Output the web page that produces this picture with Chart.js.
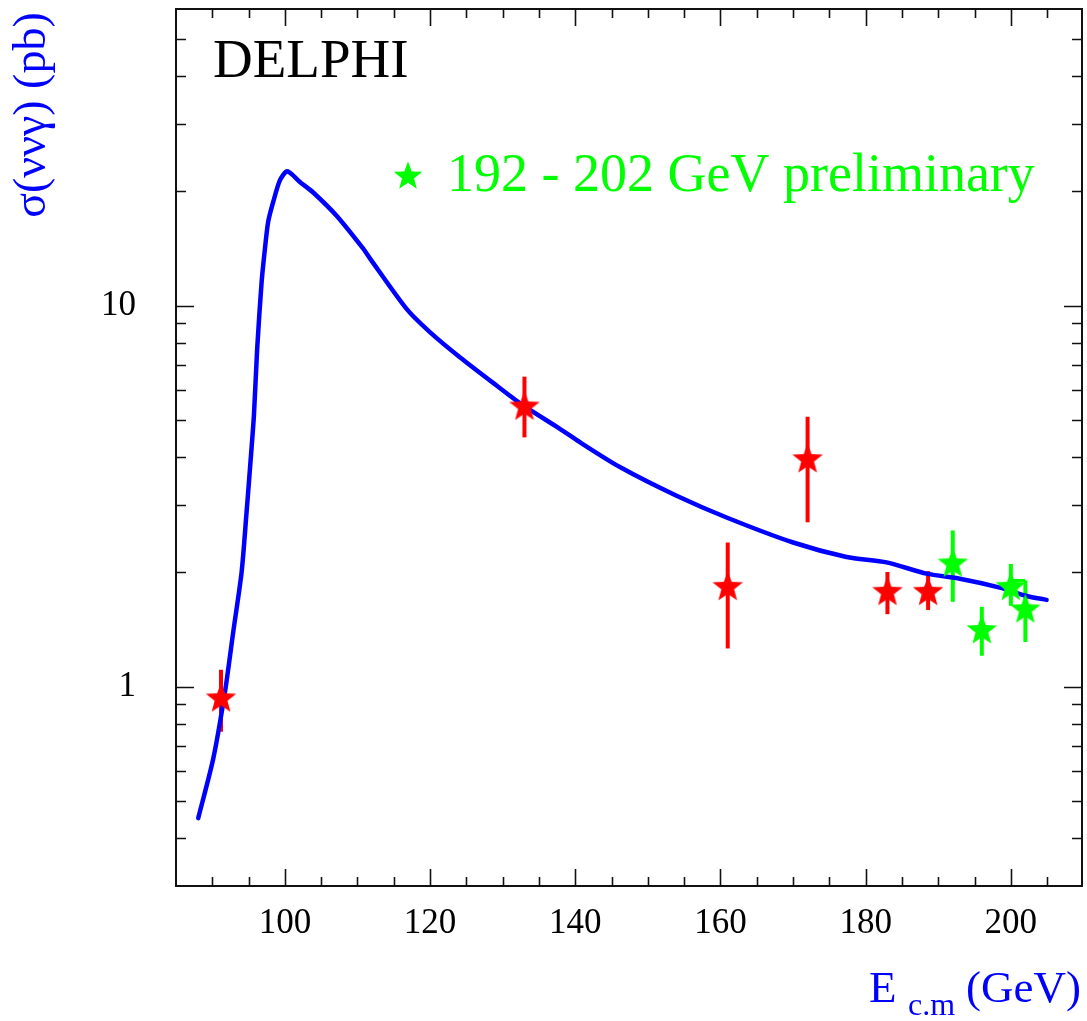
<!DOCTYPE html>
<html>
<head>
<meta charset="utf-8">
<script src="https://cdn.jsdelivr.net/npm/chart.js@4.4.1/dist/chart.umd.min.js"></script>
<style>
html, body { margin: 0; padding: 0; background: #fff; }
</style>
</head>
<body>
<canvas id="c" width="1087" height="1021"></canvas>
<script>
// DELPHI sigma(nu nu gamma) vs E c.m.

// theory curve
const curveE = [88.06, 90.12, 91.74, 92.88, 94.04, 94.72, 95.08, 95.73, 96.18, 96.79, 97.25, 97.70, 98.39, 99.31, 100.32, 102.07, 103.90, 107.12, 110.79, 111.71, 116.76, 119.97, 124.10, 129.16, 132.82, 137.88, 140.63, 146.14, 153.95, 160.84, 170.01, 177.37, 182.88, 188.39, 192.98, 198.48, 202.16, 204.92];
const curveSigma = [0.452, 0.646, 0.967, 1.39, 2.00, 2.87, 3.51, 5.14, 7.70, 11.5, 14.1, 16.6, 18.7, 21.3, 22.5, 21.1, 19.8, 17.2, 14.1, 13.3, 9.80, 8.52, 7.32, 6.17, 5.47, 4.75, 4.38, 3.77, 3.17, 2.78, 2.39, 2.19, 2.12, 1.98, 1.92, 1.82, 1.73, 1.69];

// published points (red)
const redE = [91.2, 133, 161, 172, 183, 188.6];
const redSigma = [0.938, 5.47, 1.84, 3.98, 1.786, 1.786];
const redHi = [1.108, 6.51, 2.39, 5.11, 2.00, 2.01];
const redLo = [0.762, 4.51, 1.26, 2.70, 1.55, 1.59];

// 192-202 preliminary (green)
const greenE = [192, 196, 200, 202];
const greenSigma = [2.12, 1.417, 1.84, 1.606];
const greenHi = [2.57, 1.62, 2.10, 1.90];
const greenLo = [1.67, 1.206, 1.63, 1.31];

// little green connector seen between 200 and 202
const linkE = [200, 202];
const linkSigma = [1.90, 1.90];

// axes
const xLabels = [100, 120, 140, 160, 180, 200];
const xMinor = [90, 95, 105, 110, 115, 125, 130, 135, 145, 150, 155, 165, 170, 175, 185, 190, 195, 205];
const yLabels = [1, 10];
const yMinor = [0.4, 0.5, 0.6, 0.7, 0.8, 0.9, 2, 3, 4, 5, 6, 7, 8, 9, 20, 30, 40, 50];

const SERIF = '"Liberation Serif", "DejaVu Serif", serif';
const BLUE = '#0000ff';
const RED = '#ff0000';
const GREEN = '#00ff00';

function makeStar(color, R) {
    const size = Math.ceil(R * 2 + 4);
    const cv = document.createElement('canvas');
    cv.width = size; cv.height = size;
    const g = cv.getContext('2d');
    const c = size / 2;
    g.beginPath();
    for (let i = 0; i < 10; i++) {
        const r = i % 2 ? R * 0.42 : R;
        const a = -Math.PI / 2 + i * Math.PI / 5;
        const px = c + r * Math.cos(a), py = c + 1.5 + r * Math.sin(a);
        i ? g.lineTo(px, py) : g.moveTo(px, py);
    }
    g.closePath();
    g.fillStyle = color;
    g.fill();
    return cv;
}

const redStar = makeStar(RED, 16);
const greenStar = makeStar(GREEN, 16);
const legendStar = makeStar(GREEN, 15);

const pts = (xs, ys) => xs.map((x, i) => ({ x, y: ys[i] }));

// error bars, frame, inner ticks, texts
const decor = {
    id: 'decor',
    beforeDatasetsDraw(chart) {
        const ctx = chart.ctx, xs = chart.scales.x, ys = chart.scales.y;
        ctx.save();
        ctx.lineWidth = 4;
        const bars = (E, lo, hi, col) => {
            ctx.strokeStyle = col;
            E.forEach((e, i) => {
                const px = xs.getPixelForValue(e);
                ctx.beginPath();
                ctx.moveTo(px, ys.getPixelForValue(lo[i]));
                ctx.lineTo(px, ys.getPixelForValue(hi[i]));
                ctx.stroke();
            });
        };
        bars(redE, redLo, redHi, RED);
        bars(greenE, greenLo, greenHi, GREEN);
        ctx.restore();
    },
    afterDraw(chart) {
        const ctx = chart.ctx, a = chart.chartArea;
        const xs = chart.scales.x, ys = chart.scales.y;
        ctx.save();
        ctx.strokeStyle = '#111';
        ctx.lineWidth = 1.6;
        // x ticks (bottom + top)
        const xt = (v, len) => {
            const p = Math.round(xs.getPixelForValue(v)) + 0.5;
            ctx.beginPath();
            ctx.moveTo(p, a.bottom); ctx.lineTo(p, a.bottom - len);
            ctx.moveTo(p, a.top); ctx.lineTo(p, a.top + len);
            ctx.stroke();
        };
        xLabels.forEach(v => xt(v, 17));
        xMinor.forEach(v => xt(v, 9));
        // y ticks (left + right)
        const yt = (v, len) => {
            const p = Math.round(ys.getPixelForValue(v)) + 0.5;
            ctx.beginPath();
            ctx.moveTo(a.left, p); ctx.lineTo(a.left + len, p);
            ctx.moveTo(a.right, p); ctx.lineTo(a.right - len, p);
            ctx.stroke();
        };
        yLabels.forEach(v => yt(v, 18));
        yMinor.forEach(v => yt(v, 10));
        // frame
        ctx.lineWidth = 2;
        ctx.strokeRect(a.left, a.top, a.right - a.left, a.bottom - a.top);

        // DELPHI label
        ctx.fillStyle = '#000';
        ctx.font = '55px ' + SERIF;
        ctx.textAlign = 'left';
        ctx.textBaseline = 'alphabetic';
        ctx.fillText('DELPHI', 213, 77);

        // legend
        ctx.drawImage(legendStar, 408 - legendStar.width / 2, 175 - legendStar.height / 2);
        ctx.fillStyle = GREEN;
        ctx.font = '54px ' + SERIF;
        ctx.fillText('192 - 202 GeV preliminary', 447, 191);

        // x title
        ctx.fillStyle = BLUE;
        ctx.font = '45px ' + SERIF;
        ctx.fillText('E', 869, 1002);
        ctx.font = '32px ' + SERIF;
        ctx.fillText('c.m', 908, 1015);
        ctx.font = '45px ' + SERIF;
        ctx.fillText('(GeV)', 966, 1002);

        // y title
        ctx.translate(45, 115);
        ctx.rotate(-Math.PI / 2);
        ctx.textAlign = 'center';
        ctx.font = '46px ' + SERIF;
        ctx.fillText('\u03c3(\u03bd\u03bd\u03b3) (pb)', 0, 0);
        ctx.restore();
    }
};

new Chart(document.getElementById('c'), {
    type: 'scatter',
    data: {
        datasets: [
            {
                label: 'published',
                data: pts(redE, redSigma),
                pointStyle: redStar,
                pointRadius: 16,
                showLine: false
            },
            {
                label: '192 - 202 GeV preliminary',
                data: pts(greenE, greenSigma),
                pointStyle: greenStar,
                pointRadius: 16,
                showLine: false
            },
            {
                label: 'link',
                data: pts(linkE, linkSigma),
                showLine: true,
                borderColor: GREEN,
                borderWidth: 3,
                pointRadius: 0
            },
            {
                label: 'theory',
                data: pts(curveE, curveSigma),
                showLine: true,
                borderColor: BLUE,
                borderWidth: 4.5,
                borderCapStyle: 'round',
                borderJoinStyle: 'round',
                tension: 0.25,
                pointRadius: 0
            }
        ]
    },
    options: {
        responsive: false,
        animation: false,
        events: [],
        layout: { autoPadding: false, padding: { left: 0, right: 5, top: 9, bottom: 0 } },
        plugins: {
            legend: { display: false },
            tooltip: { enabled: false },
            title: { display: false }
        },
        scales: {
            x: {
                type: 'linear',
                min: 85,
                max: 209.8,
                grid: { display: false, drawTicks: false },
                border: { display: false },
                afterBuildTicks: s => { s.ticks = xLabels.map(v => ({ value: v })); },
                afterFit: s => { s.height = 135; s.paddingLeft = 0; s.paddingRight = 0; },
                ticks: {
                    autoSkip: false,
                    maxRotation: 0,
                    padding: 17,
                    color: '#000',
                    font: { family: SERIF, size: 35 },
                    callback: v => String(v)
                }
            },
            y: {
                type: 'logarithmic',
                min: 0.3,
                max: 60,
                grid: { display: false, drawTicks: false },
                border: { display: false },
                afterBuildTicks: s => { s.ticks = yLabels.map(v => ({ value: v })); },
                afterFit: s => { s.width = 176; s.paddingTop = 0; s.paddingBottom = 0; },
                ticks: {
                    autoSkip: false,
                    padding: 40,
                    color: '#000',
                    font: { family: SERIF, size: 35 },
                    callback: v => String(v)
                }
            }
        }
    },
    plugins: [decor]
});
</script>
</body>
</html>
